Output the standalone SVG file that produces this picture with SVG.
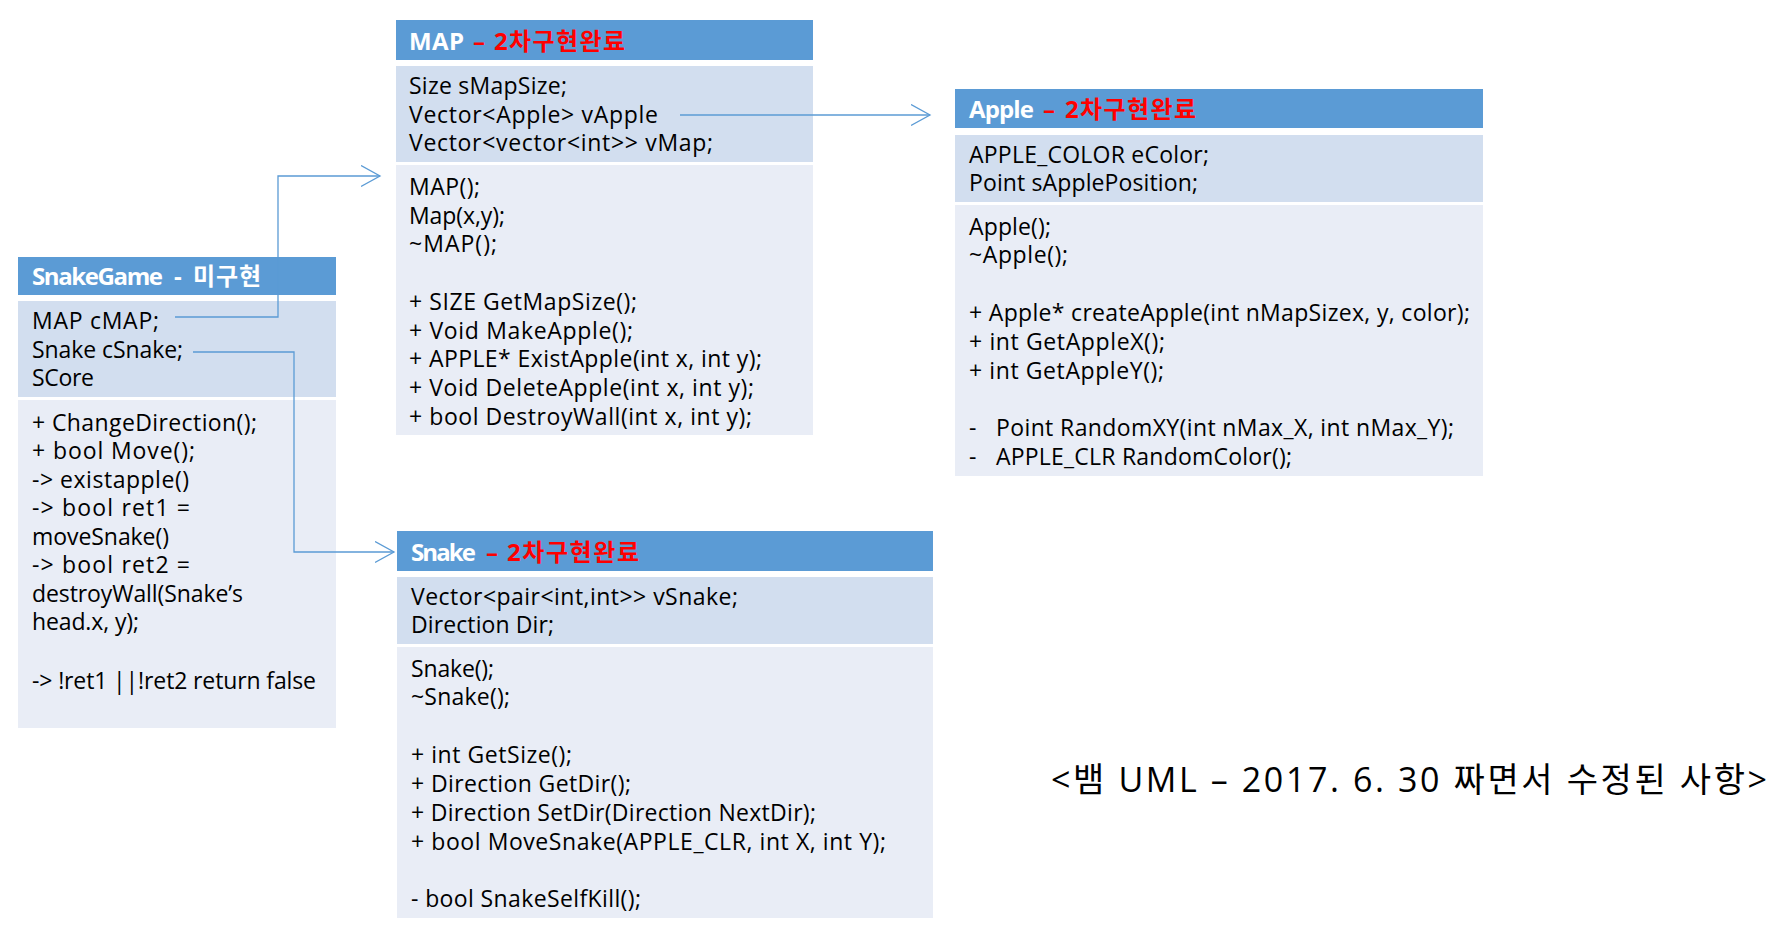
<svg xmlns="http://www.w3.org/2000/svg" width="1773" height="930" viewBox="0 0 1773 930">
<style>
.hd{fill:#5b9bd5}
.at{fill:#d2deef}
.me{fill:#e9edf6}
text{font-family:"Open Sans","Noto Sans CJK KR",sans-serif;font-size:23px;fill:#000}
.ht{font-weight:bold;fill:#fff;font-size:24px}
.red{fill:#ff0000}
.con{fill:none;stroke:#5b9bd5;stroke-width:1.3}
.title{font-size:34px}
</style>
<defs>
<marker id="arr" markerUnits="userSpaceOnUse" markerWidth="22" markerHeight="24" refX="19" refY="11" orient="auto" viewBox="0 0 22 24">
<path d="M0,0.5 L19,11 L0,21.5" fill="none" stroke="#5b9bd5" stroke-width="1.3"/>
</marker>
</defs>
<rect width="1773" height="930" fill="#fff"/>

<g id="map">
<rect class="hd" x="396" y="20" width="417" height="40"/>
<rect class="at" x="396" y="66" width="417" height="96"/>
<rect class="me" x="396" y="165" width="417" height="270"/>
<text class="ht" x="409" y="50" textLength="55">MAP</text>
<text class="ht red" x="473" y="50">–</text>
<text class="ht red" x="494" y="50" textLength="131">2차구현완료</text>
<text x="409" y="94" textLength="158">Size sMapSize;</text>
<text x="409" y="122.5" textLength="249">Vector&lt;Apple&gt; vApple</text>
<text x="409" y="151" textLength="304">Vector&lt;vector&lt;int&gt;&gt; vMap;</text>
<text x="409" y="195" textLength="71">MAP();</text>
<text x="409" y="224" textLength="96">Map(x,y);</text>
<text x="409" y="252" textLength="88">~MAP();</text>
<text x="409" y="310" textLength="228">+ SIZE GetMapSize();</text>
<text x="409" y="339" textLength="224">+ Void MakeApple();</text>
<text x="409" y="367" textLength="353">+ APPLE* ExistApple(int x, int y);</text>
<text x="409" y="396" textLength="345">+ Void DeleteApple(int x, int y);</text>
<text x="409" y="425" textLength="343">+ bool DestroyWall(int x, int y);</text>
</g>

<g id="apple">
<rect class="hd" x="955" y="89" width="528" height="39"/>
<rect class="at" x="955" y="135" width="528" height="67"/>
<rect class="me" x="955" y="205" width="528" height="271"/>
<text class="ht" x="969" y="118" textLength="65">Apple</text>
<text class="ht red" x="1043" y="118">–</text>
<text class="ht red" x="1065" y="118" textLength="131">2차구현완료</text>
<text x="969" y="163" textLength="240">APPLE_COLOR eColor;</text>
<text x="969" y="191" textLength="229">Point sApplePosition;</text>
<text x="969" y="235" textLength="82">Apple();</text>
<text x="969" y="263" textLength="99">~Apple();</text>
<text x="969" y="321" textLength="501">+ Apple* createApple(int nMapSizex, y, color);</text>
<text x="969" y="350" textLength="196">+ int GetAppleX();</text>
<text x="969" y="379" textLength="195">+ int GetAppleY();</text>
<text x="969" y="436">-</text>
<text x="996" y="436" textLength="458">Point RandomXY(int nMax_X, int nMax_Y);</text>
<text x="969" y="464.5">-</text>
<text x="996" y="464.5" textLength="296">APPLE_CLR RandomColor();</text>
</g>

<g id="snakegame">
<rect class="hd" x="18" y="257" width="318" height="38"/>
<rect class="at" x="18" y="301" width="318" height="96"/>
<rect class="me" x="18" y="400" width="318" height="328"/>
<text class="ht" x="32" y="284.5" textLength="131">SnakeGame</text>
<text class="ht" x="174" y="284.5">-</text>
<text class="ht" x="193" y="284.5" textLength="68">미구현</text>
<text x="32" y="329" textLength="127">MAP cMAP;</text>
<text x="32" y="357.5" textLength="151">Snake cSnake;</text>
<text x="32" y="386" textLength="62">SCore</text>
<text x="32" y="431" textLength="225">+ ChangeDirection();</text>
<text x="32" y="459" textLength="163">+ bool Move();</text>
<text x="32" y="487.5" textLength="157">-&gt; existapple()</text>
<text x="32" y="516" textLength="158">-&gt; bool ret1 =</text>
<text x="32" y="545" textLength="137">moveSnake()</text>
<text x="32" y="573" textLength="158">-&gt; bool ret2 =</text>
<text x="32" y="601.5" textLength="211">destroyWall(Snake’s</text>
<text x="32" y="630" textLength="107">head.x, y);</text>
<text x="32" y="689" textLength="284">-&gt; !ret1 ||!ret2 return false</text>
</g>

<g id="snake">
<rect class="hd" x="397" y="531" width="536" height="40"/>
<rect class="at" x="397" y="577" width="536" height="67"/>
<rect class="me" x="397" y="647" width="536" height="271"/>
<text class="ht" x="411" y="561" textLength="65">Snake</text>
<text class="ht red" x="486" y="561">–</text>
<text class="ht red" x="507" y="561" textLength="132">2차구현완료</text>
<text x="411" y="605" textLength="327">Vector&lt;pair&lt;int,int&gt;&gt; vSnake;</text>
<text x="411" y="633" textLength="143">Direction Dir;</text>
<text x="411" y="677" textLength="83">Snake();</text>
<text x="411" y="705" textLength="99">~Snake();</text>
<text x="411" y="763" textLength="161">+ int GetSize();</text>
<text x="411" y="792" textLength="220">+ Direction GetDir();</text>
<text x="411" y="821" textLength="405">+ Direction SetDir(Direction NextDir);</text>
<text x="411" y="850" textLength="475">+ bool MoveSnake(APPLE_CLR, int X, int Y);</text>
<text x="411" y="907" textLength="230">- bool SnakeSelfKill();</text>
</g>

<g id="connectors">
<path class="con" d="M175,317 H278 V176 H380" marker-end="url(#arr)"/>
<path class="con" d="M193,352 H294 V552 H394" marker-end="url(#arr)"/>
<path class="con" d="M680,115 H930" marker-end="url(#arr)"/>
</g>

<text class="title" x="1051" y="792" textLength="716">&lt;뱀 UML – 2017. 6. 30 짜면서 수정된 사항&gt;</text>
</svg>
